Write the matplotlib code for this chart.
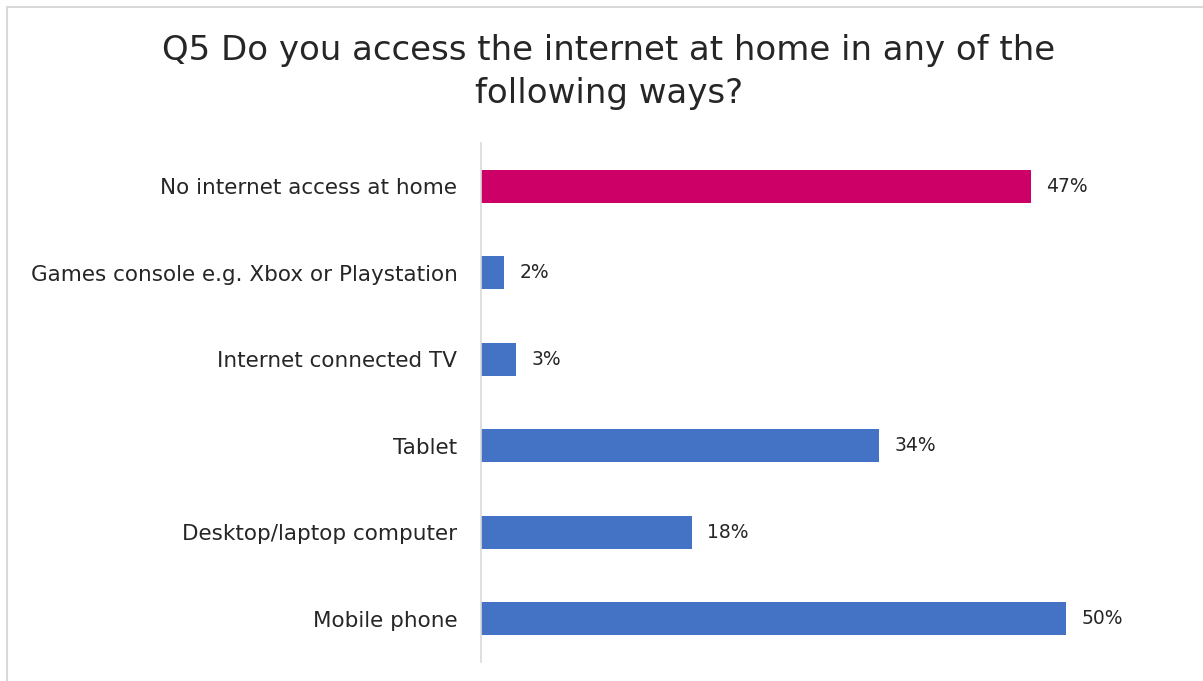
import matplotlib
matplotlib.use("Agg")
import matplotlib.pyplot as plt
from matplotlib.patches import Rectangle

categories = [
    "No internet access at home",
    "Games console e.g. Xbox or Playstation",
    "Internet connected TV",
    "Tablet",
    "Desktop/laptop computer",
    "Mobile phone",
]
values = [47, 2, 3, 34, 18, 50]
colors = ["#CC0066", "#4472C4", "#4472C4", "#4472C4", "#4472C4", "#4472C4"]
title = "Q5 Do you access the internet at home in any of the\nfollowing ways?"

plt.rcParams["font.family"] = ["DejaVu Sans"]

W, H = 1203, 681
fig = plt.figure(figsize=(W / 100, H / 100), dpi=100)

# light frame around the chart area
fig.patches.append(Rectangle((7 / W, -0.1), 1.2, (H - 7) / H + 0.1,
                             transform=fig.transFigure, fill=False,
                             edgecolor="#d9d9d9", linewidth=1.5))

ax = fig.add_axes([481 / W, (H - 662) / H, 700 / W, (662 - 143) / H])
ypos = list(range(len(categories)))
ax.barh(ypos, values, height=0.38, color=colors)
ax.set_xlim(0, 59.8)
ax.set_ylim(len(categories) - 0.5, -0.5)

ax.set_yticks(ypos)
ax.set_yticklabels(categories, fontsize=15.5, color="#262626")
ax.tick_params(axis="y", length=0, pad=17)
ax.set_xticks([])
for s in ["top", "right", "bottom"]:
    ax.spines[s].set_visible(False)
ax.spines["left"].set_color("#d9d9d9")
ax.spines["left"].set_linewidth(1.2)

for y, v in zip(ypos, values):
    ax.text(v + 1.3, y, f"{v}%", va="center", ha="left", fontsize=13.5,
            color="#262626")

fig.text(609 / W, 1 - 72 / H, title, ha="center", va="center",
         fontsize=24.5, color="#262626", linespacing=1.4)

fig.savefig("out.png", dpi=100)
